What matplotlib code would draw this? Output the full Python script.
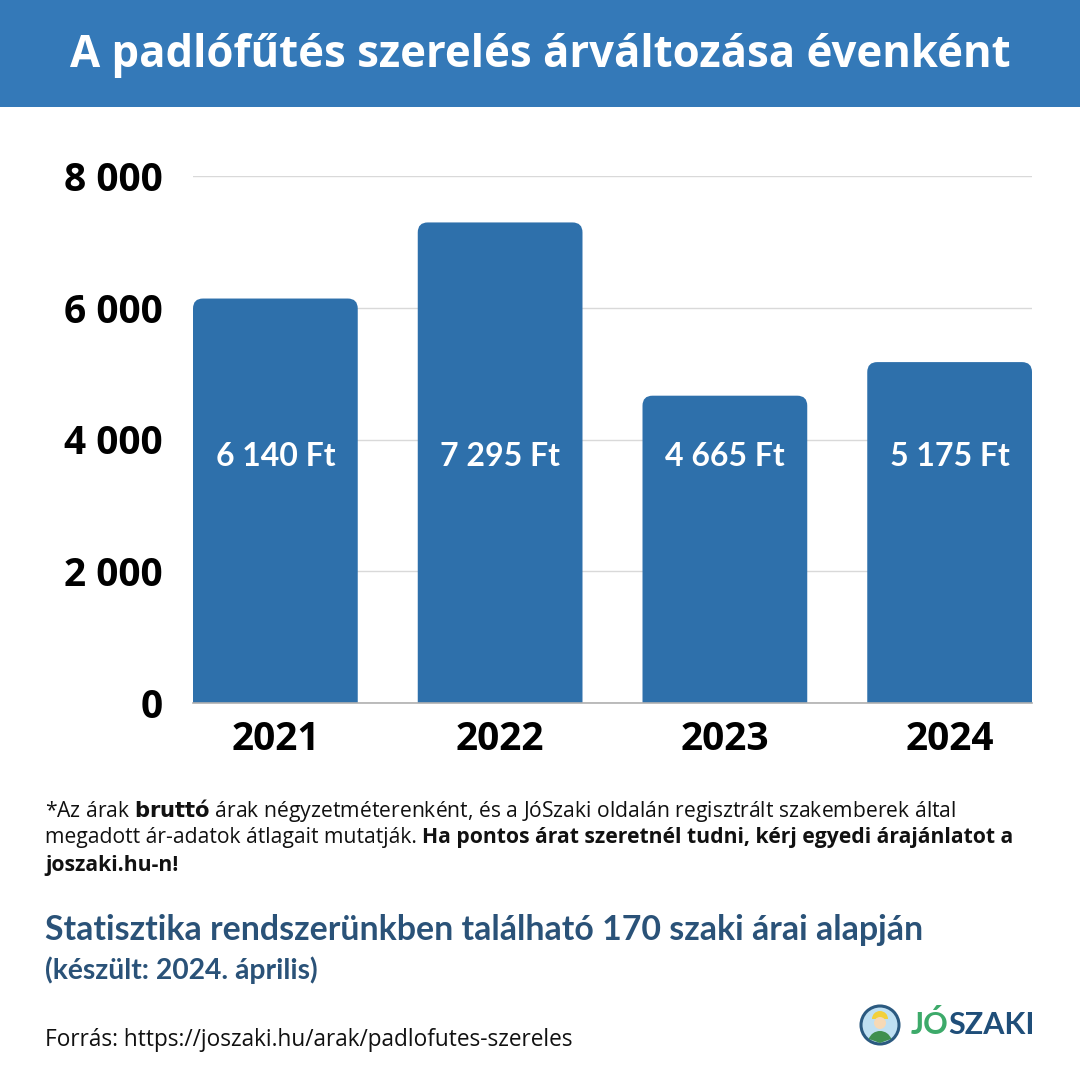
import matplotlib

matplotlib.use("Agg")

import matplotlib.pyplot as plt
from matplotlib.patches import FancyBboxPatch, Rectangle, Circle, Wedge
from matplotlib.ticker import FixedLocator, FuncFormatter

# data
years = ["2021", "2022", "2023", "2024"]
prices = [6140, 7295, 4665, 5175]
price_labels = ["6 140 Ft", "7 295 Ft", "4 665 Ft", "5 175 Ft"]
y_ticks = [0, 2000, 4000, 6000, 8000]

HEADER_BLUE = "#3479b8"
BAR_BLUE = "#2e70ab"
DARK_BLUE = "#2a5278"
FONT = ["Open Sans", "DejaVu Sans"]
ROUND_FONT = ["Lato", "Open Sans", "DejaVu Sans"]

plt.rcParams["font.family"] = FONT

W = H = 1080
fig = plt.figure(figsize=(10.8, 10.8), dpi=100)
fig.patch.set_facecolor("white")


def fx(px):
    return px / W


def fy(py):
    return 1 - py / H


# header band
fig.patches.append(
    Rectangle((0, fy(107)), 1, 107 / H, transform=fig.transFigure,
              facecolor=HEADER_BLUE, edgecolor="none", zorder=0)
)
fig.text(0.5, fy(55), "A padlófűtés szerelés árváltozása évenként",
         ha="center", va="center", color="white", fontsize=31.5, fontweight="bold")

# chart area
left, right, top, bottom = 193, 1032, 176, 703
ax = fig.add_axes([fx(left), fy(bottom), (right - left) / W, (bottom - top) / H])
width = 0.733
x = list(range(len(years)))
bars = ax.bar(x, prices, width=width, color=BAR_BLUE, zorder=2)

# swap plain bars for round-topped ones
px_per_x = (right - left) / (len(years) - 1 + width)
px_per_y = (bottom - top) / 8000
for bar in bars:
    bx, by = bar.get_x(), bar.get_y()
    bw, bh = bar.get_width(), bar.get_height()
    bar.set_visible(False)
    ext = 400
    patch = FancyBboxPatch(
        (bx, by - ext), bw, bh + ext,
        boxstyle=f"round,pad=0,rounding_size={10 / px_per_x}",
        mutation_aspect=px_per_x / px_per_y,
        facecolor=BAR_BLUE, edgecolor="none", zorder=2,
    )
    ax.add_patch(patch)

for xi, lab in zip(x, price_labels):
    ax.text(xi, 3740, lab, ha="center", va="center", color="white",
            fontsize=23, fontweight="bold", family=ROUND_FONT, zorder=3)

ax.set_xlim(-width / 2, len(years) - 1 + width / 2)
ax.set_ylim(0, 8000)
ax.yaxis.set_major_locator(FixedLocator(y_ticks))
ax.yaxis.set_major_formatter(FuncFormatter(lambda v, _p: f"{int(v):,}".replace(",", " ")))
ax.set_xticks(x)
ax.set_xticklabels(years)
ax.grid(axis="y", color="#d9d9d9", linewidth=1.0, zorder=0)
ax.set_axisbelow(True)
for side in ("top", "right", "left"):
    ax.spines[side].set_visible(False)
ax.spines["bottom"].set_color("#b0b0b0")
ax.spines["bottom"].set_linewidth(1.2)
ax.spines["bottom"].set_zorder(4)
ax.tick_params(axis="both", length=0, labelsize=28, colors="black")
ax.tick_params(axis="y", pad=22)
ax.tick_params(axis="x", pad=12)
for lab in ax.get_xticklabels() + ax.get_yticklabels():
    lab.set_fontweight("bold")

# footnote
fs = 15.2
fig.text(fx(45), fy(810),
         r"*Az árak $\bf{bruttó}$ árak négyzetméterenként, és a JóSzaki oldalán regisztrált szakemberek által",
         ha="left", va="center", fontsize=fs, color="#111111")
t = fig.text(fx(45), fy(838), "megadott ár-adatok átlagait mutatják. ",
             ha="left", va="center", fontsize=fs, color="#111111")
fig.canvas.draw()
bb = t.get_window_extent()
fig.text(bb.x1 / W, fy(838), "Ha pontos árat szeretnél tudni, kérj egyedi árajánlatot a",
         ha="left", va="center", fontsize=fs, fontweight="bold", color="#111111")
fig.text(fx(45), fy(866), "joszaki.hu-n!", ha="left", va="center",
         fontsize=fs, fontweight="bold", color="#111111")

fig.text(fx(45), fy(930), "Statisztika rendszerünkben található 170 szaki árai alapján",
         ha="left", va="center", fontsize=24.4, fontweight="bold", family=ROUND_FONT,
         color=DARK_BLUE)
fig.text(fx(45), fy(970), "(készült: 2024. április)",
         ha="left", va="center", fontsize=20.3, fontweight="bold", family=ROUND_FONT,
         color=DARK_BLUE)
fig.text(fx(45), fy(1040), "Forrás: https://joszaki.hu/arak/padlofutes-szereles",
         ha="left", va="center", fontsize=16.3, color="#111111")

# logo
lax = fig.add_axes([fx(855), fy(1050), 50 / W, 50 / H])
lax.set_xlim(0, 50)
lax.set_ylim(0, 50)
lax.set_aspect("equal")
lax.axis("off")
lax.add_patch(Circle((25, 25), 19, facecolor="#bfe0f2", edgecolor="#2b5a80", linewidth=2.2))
lax.add_patch(Wedge((25, 31), 8, 0, 180, facecolor="#f2d03b", edgecolor="none"))
lax.add_patch(Circle((25, 27), 6, facecolor="#f6d9b5", edgecolor="none"))
lax.add_patch(Wedge((25, 7), 12, 20, 160, facecolor="#3e8f4f", edgecolor="none"))
jo = fig.text(fx(911), fy(1025), "JÓ", ha="left", va="center", fontsize=22,
              fontweight="bold", family=ROUND_FONT, color="#3daa6a")
fig.canvas.draw()
jb = jo.get_window_extent()
fig.text(jb.x1 / W, fy(1025), "SZAKI", ha="left", va="center", fontsize=22,
         fontweight="bold", family=ROUND_FONT, color="#1f4e79")

fig.savefig("out.png", dpi=100, facecolor="white")
